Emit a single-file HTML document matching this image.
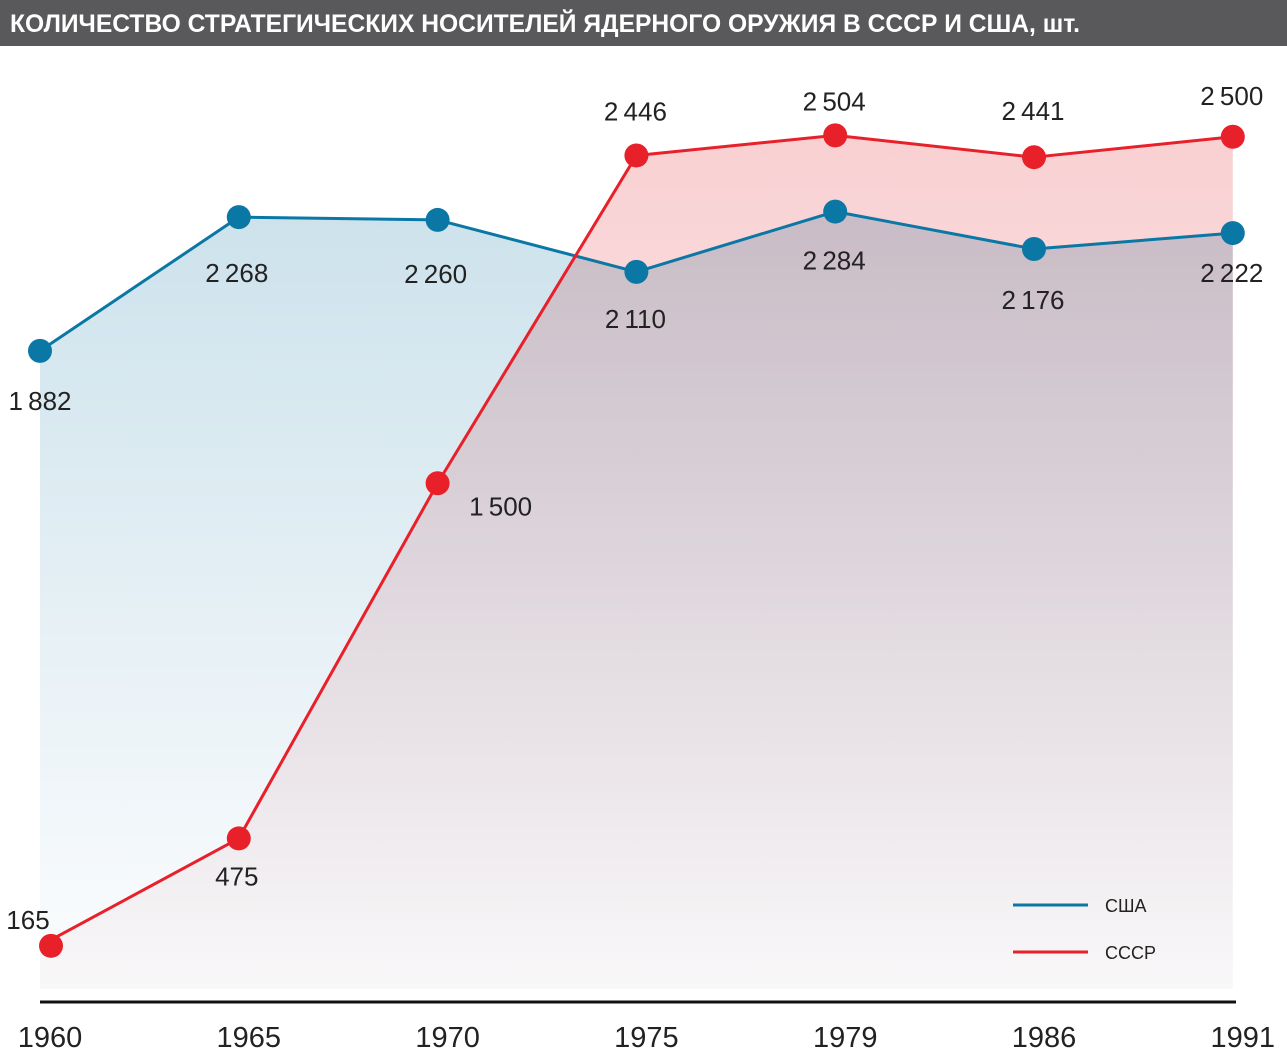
<!DOCTYPE html>
<html><head><meta charset="utf-8"><style>
html,body{margin:0;padding:0;background:#fff;}
svg{display:block;font-family:"Liberation Sans",sans-serif;}
</style></head><body>
<svg id="chart" width="1287" height="1059" viewBox="0 0 1287 1059" xmlns="http://www.w3.org/2000/svg">
<defs>
<linearGradient id="gBlue" gradientUnits="userSpaceOnUse" x1="0" y1="210" x2="0" y2="990">
<stop offset="0" stop-color="#cde2ec"/><stop offset="1" stop-color="#fcfdfe"/></linearGradient>
<linearGradient id="gRed" gradientUnits="userSpaceOnUse" x1="0" y1="130" x2="0" y2="990">
<stop offset="0" stop-color="#f9d0d2"/><stop offset="1" stop-color="#fcfafa"/></linearGradient>
</defs>
<rect x="0" y="0" width="1287" height="46" fill="#59595b"/>
<text x="10" y="32" fill="#fff" font-size="25" font-weight="bold" textLength="1070" lengthAdjust="spacingAndGlyphs">КОЛИЧЕСТВО СТРАТЕГИЧЕСКИХ НОСИТЕЛЕЙ ЯДЕРНОГО ОРУЖИЯ В СССР И США, шт.</text>
<g id="fills"></g>
<line x1="40" y1="1002" x2="1236" y2="1002" stroke="#111" stroke-width="3"/>
<g id="xticks"></g>
<g id="series"></g>
<g>
<line x1="1013" y1="905" x2="1088" y2="905" stroke="#0b77a5" stroke-width="3"/>
<text x="1105" y="912" font-size="18" fill="#222">США</text>
<line x1="1013" y1="952" x2="1088" y2="952" stroke="#e8202a" stroke-width="3"/>
<text x="1105" y="959" font-size="18" fill="#222">СССР</text>
</g>
</svg>
<script>
const years = ["1960","1965","1970","1975","1979","1986","1991"];
const usaValues = [1882, 2268, 2260, 2110, 2284, 2176, 2222];
const ussrValues = [165, 475, 1500, 2446, 2504, 2441, 2500];

const NS = "http://www.w3.org/2000/svg";
function xPos(i){ return 40 + i * 198.8; }
function yPos(v){ return 1003 - v * 0.3465; }
function fmt(v){ return String(v).replace(/\B(?=(\d{3})+(?!\d))/g, "\u2009"); }
function mk(tag, attrs, parent){ const e=document.createElementNS(NS,tag); for(const k in attrs) e.setAttribute(k,attrs[k]); parent.appendChild(e); return e; }

const fills=document.getElementById('fills');
const series=document.getElementById('series');
const xt=document.getElementById('xticks');
const base=yPos(0)-14;

function area(vals, fill, name){
  let d="M"+xPos(0)+","+base;
  vals.forEach((v,i)=>{ d+=" L"+xPos(i)+","+yPos(v); });
  d+=" L"+xPos(vals.length-1)+","+base+" Z";
  const p=mk('path',{d:d,fill:fill,style:'mix-blend-mode:multiply'},fills);
  
  
}
area(usaValues,'url(#gBlue)','usa-area');
area(ussrValues,'url(#gRed)','ussr-area');

const usaOff=[[0,58],[-2,64],[-2,62],[-1,55],[-1,57],[-1,59],[-1,48]];
const ussrOff=[[-12,-18],[-2,46],[63,31],[-1,-36],[-1,-26],[-1,-38],[-1,-33]];

function line(vals,color,name,offs){
  const pts=vals.map((v,i)=>xPos(i)+","+yPos(v)).join(" ");
  const pl=mk('polyline',{points:pts,fill:'none',stroke:color,'stroke-width':3,'stroke-linejoin':'round'},series);
  
  
  vals.forEach((v,i)=>{
    const cx = (name==='ussr' && i===0) ? xPos(i)+11 : xPos(i);
    const c=mk('circle',{cx:cx,cy:yPos(v),r:12,fill:color},series);
    
    
    const t=mk('text',{x:xPos(i)+offs[i][0],y:yPos(v)+offs[i][1]+1,'font-size':26,'text-anchor':'middle',fill:'#222'},series);
    t.textContent=fmt(v);
    
    
  });
}
line(usaValues,'#0b77a5','usa',usaOff);
line(ussrValues,'#e8202a','ussr',ussrOff);

years.forEach((y,i)=>{
  const t=mk('text',{x:xPos(i)+10,y:1047,'font-size':29,'text-anchor':'middle',fill:'#222'},xt);
  t.textContent=y;
  
  
});
</script>
</body></html>
